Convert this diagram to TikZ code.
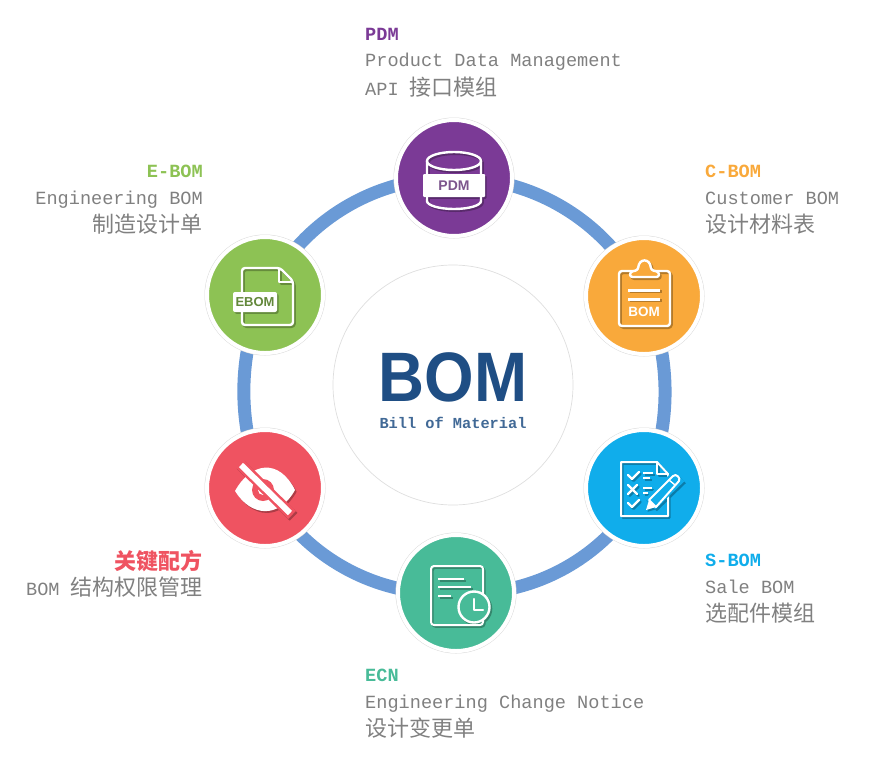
\documentclass[tikz,border=0pt]{standalone}
\usepackage{fontspec}
\setmainfont{Liberation Sans}
\newfontfamily\monof{Liberation Mono}
\newfontfamily\cjk{Noto Sans CJK SC}
\newfontfamily\bomf[FakeStretch=0.91]{Liberation Sans}
\usetikzlibrary{backgrounds}
\definecolor{cpdm}{HTML}{7B3A96}
\definecolor{ccb}{HTML}{F9A93B}
\definecolor{csb}{HTML}{10ADEB}
\definecolor{cecn}{HTML}{48BB98}
\definecolor{ckey}{HTML}{EF5361}
\definecolor{ceb}{HTML}{8DC254}
\definecolor{cring}{HTML}{6A9AD6}
\definecolor{cgray}{HTML}{808080}
\definecolor{cnavy}{HTML}{1F4E84}
\tikzset{
  disc/.style={circle,minimum size=116pt,inner sep=0pt,outer sep=0pt,fill=#1,draw=white,line width=4pt,
    preaction={draw=black!14,line width=5pt}},
  ringlink/.style={draw=cring,line width=13pt},
  longarc/.style={ringlink,bend left=32.5,looseness=0.924},
  shortarc/.style={ringlink,bend left=26,looseness=0.855},
  caption/.style={font=\monof\fontsize{18.6}{26.5}\selectfont,text=cgray,inner sep=0pt,anchor=north west,align=left},
  captionr/.style={caption,anchor=north east,align=right},
  ico/.style={draw=ink,line width=2.4pt,line join=round,line cap=round},
  icotext/.style={font=\fontsize{#1}{#1}\selectfont\bfseries,inner sep=0pt},
}
\newcommand{\headline}[2]{{\color{#1}\bfseries #2}}
\newcommand{\cj}{\cjk\fontsize{22}{26.5}\selectfont}
% icon drawings, relative to the disc centre; colour "ink" is set by \shadowed
\newcommand{\shadowed}[2]{%
  \begin{scope}[shift={(1.6,1.8)}]\colorlet{ink}{#1!72!black}\colorlet{back}{#1!72!black}#2{#1!72!black}\end{scope}%
  \colorlet{ink}{white}\colorlet{back}{#1}#2{white}}
\newcommand{\iconpdm}[1]{%
  \draw[ico] (-27,-17) arc[start angle=180,end angle=-180,x radius=27pt,y radius=9pt];
  \draw[ico] (-27,-17) -- (-27,23) arc[start angle=180,end angle=360,x radius=27pt,y radius=8pt] -- (27,-17);
  \fill[#1,rounded corners=1pt] (-31,-4) rectangle (31,19);}
\newcommand{\iconcb}[1]{%
  \draw[ico,rounded corners=3pt] (-25,-25) rectangle (26,30);
  \draw[ico,fill=back,rounded corners=2.5pt] (-14,-19) -- (-14,-24) -- (-6,-26) .. controls (-5,-38) and (6,-38) .. (7,-26) -- (15,-24) -- (15,-19) -- cycle;
  \draw[ico,line width=3pt,line cap=butt] (-16,-6) -- (16,-6) (-16,3) -- (16,3);}
\newcommand{\iconsb}[1]{%
  \draw[ico,line width=2pt,line cap=butt,miter limit=4] (-23,-26) -- (13,-26) -- (24,-14) -- (24,28) -- (-23,28) -- cycle;
  \draw[ico,line width=2pt] (13,-26) -- (13,-14) -- (24,-14);
  \draw[ico] (-16,-13) -- (-12,-9) -- (-5,-16) (-16,15) -- (-12,19) -- (-5,12);
  \draw[ico] (-16,-3) -- (-7,6) (-7,-3) -- (-16,6);
  \draw[ico,line cap=butt] (-1,-15) -- (9,-15) (-1,-10) -- (6,-10) (-1,0) -- (8,0) (-1,5) -- (4,5);
  \draw[back,line width=15pt,line cap=butt] (6,16) -- (35,-12);
  \fill[ink] (2,22) -- (5,12) -- (12,19) -- cycle;
  \draw[ico,line width=2pt] (5,12) -- (29,-12) .. controls (32,-15) and (37,-10) .. (35,-7) -- (12,19) -- cycle;
  \draw[ico,line width=1.4pt] (25,-8) -- (31,-3);}
\newcommand{\iconecn}[1]{%
  \draw[ico,line width=2pt,rounded corners=3pt] (-25,-27) rectangle (27,32);
  \draw[ico,line width=2pt,line cap=butt] (-18,-14) -- (8,-14) (-18,-6) -- (15,-6) (-18,3) -- (-5,3);
  \draw[ico,line width=2.4pt,fill=back] (18,14) circle (15.5pt);
  \draw[ico,line width=2.4pt] (18,6) -- (18,17) -- (27,17);}
\newcommand{\iconkey}[1]{%
  \fill[ink] (-30,3) .. controls (-14,-26) and (14,-30) .. (30,2) .. controls (14,31) and (-14,29) .. cycle;
  \fill[back] (-2,2) circle (11pt);
  \fill[ink] (-2,2) circle (5pt);
  \draw[back,line width=11pt,line cap=butt] (-26,-25) -- (27,27);
  \draw[ink,line width=6pt,line cap=butt] (-24,-23) -- (25,25);}
\newcommand{\iconeb}[1]{%
  \draw[ico,line width=2.4pt,rounded corners=3pt] (-23,-27) -- (15,-27) -- (28,-14) -- (28,30) -- (-23,30) -- cycle;
  \draw[ico,line width=2.2pt] (14,-26) -- (14,-13) -- (27,-13);
  \fill[#1,rounded corners=2pt] (-32,-3) rectangle (12,17);}
\begin{document}
\begin{tikzpicture}[x=1pt,y=-1pt]
\useasboundingbox (0,0) rectangle (885,758);
% centre
\node[circle,minimum size=240pt,inner sep=0pt,draw=black!13,line width=.7pt] (hub) at (453,385) {};
\node[inner sep=0pt,text=cnavy] (bom) at (453,377) {\bomf\fontsize{70}{70}\selectfont\bfseries BOM};
\node[inner sep=0pt,text=cnavy!85] (bill) at (453,423) {\monof\fontsize{15.3}{16}\selectfont\bfseries Bill of Material};
% discs
\node[disc=cpdm] (pdm) at (454,178) {};
\node[disc=ccb]  (cb)  at (644,296) {};
\node[disc=csb]  (sb)  at (644,488) {};
\node[disc=cecn] (ecn) at (456,593) {};
\node[disc=ckey] (key) at (265,488) {};
\node[disc=ceb]  (eb)  at (265,295) {};
% connectors
\begin{scope}[on background layer]
  \draw[longarc] (pdm.center) to (cb.center);
  \draw[shortarc] (cb.center) to (sb.center);
  \draw[longarc] (sb.center) to (ecn.center);
  \draw[longarc] (ecn.center) to (key.center);
  \draw[shortarc] (key.center) to (eb.center);
  \draw[longarc] (eb.center) to (pdm.center);
\end{scope}
% icons
\begin{scope}[shift={(454,178)}]
  \shadowed{cpdm}{\iconpdm}
  \node[icotext=14,text=cpdm!75!black!80] (pdmt) at (0,8) {PDM};
\end{scope}
\begin{scope}[shift={(644,296)}]
  \shadowed{ccb}{\iconcb}
  \node[icotext=13.5,text=white] (cbt) at (0,16) {BOM};
\end{scope}
\begin{scope}[shift={(644,488)}]
  \shadowed{csb}{\iconsb}
\end{scope}
\begin{scope}[shift={(456,593)}]
  \shadowed{cecn}{\iconecn}
\end{scope}
\begin{scope}[shift={(265,488)}]
  \shadowed{ckey}{\iconkey}
\end{scope}
\begin{scope}[shift={(265,295)}]
  \shadowed{ceb}{\iconeb}
  \node[icotext=13,text=ceb!70!black] (ebt) at (-10,7) {EBOM};
\end{scope}
% captions
\node[caption] (lpdm) at (365,28) {\headline{cpdm}{PDM}\\Product Data Management\\[2pt]API {\cj 接口模组}};
\node[caption] (lcb) at (705,165) {\headline{ccb}{C-BOM}\\Customer BOM\\[2pt]{\cj 设计材料表}};
\node[caption] (lsb) at (705,554) {\headline{csb}{S-BOM}\\Sale BOM\\[2pt]{\cj 选配件模组}};
\node[caption] (lecn) at (365,669) {\headline{cecn}{ECN}\\Engineering Change Notice\\[2pt]{\cj 设计变更单}};
\node[captionr] (leb) at (203,165) {\headline{ceb}{E-BOM}\\Engineering BOM\\[2pt]{\cj 制造设计单}};
\node[captionr] (lkey) at (203,550) {{\cj\color{ckey}\bfseries 关键配方}\\BOM {\cj 结构权限管理}};
\end{tikzpicture}
\end{document}
